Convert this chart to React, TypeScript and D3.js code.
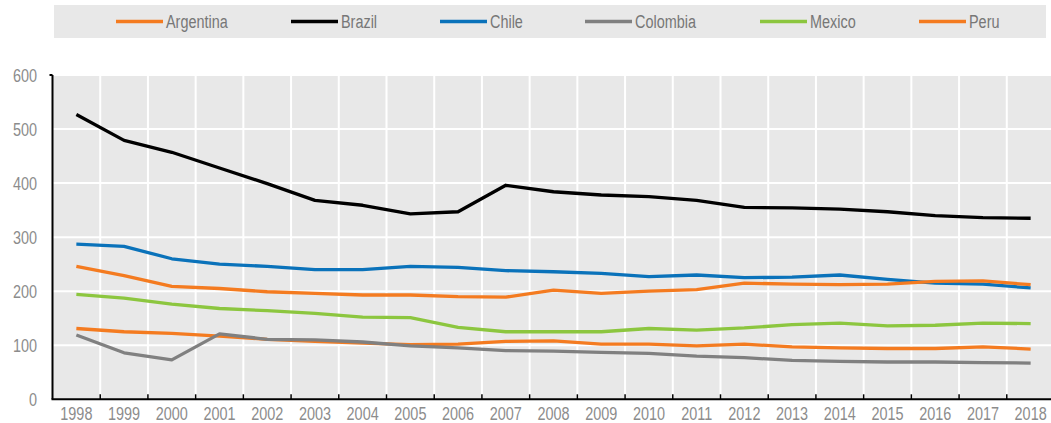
import React from "react";
import * as d3 from "d3";

const years = ["1998","1999","2000","2001","2002","2003","2004","2005","2006","2007","2008","2009","2010","2011","2012","2013","2014","2015","2016","2017","2018"];
const yTicks = [0, 100, 200, 300, 400, 500, 600];

const argentina = [131, 125, 122, 117, 111, 107, 104, 101, 102, 107, 108, 102, 102, 99, 102, 97, 95, 94, 94, 97, 93];
const brazil = [527, 479, 457, 428, 399, 368, 359, 343, 347, 396, 384, 378, 375, 368, 355, 354, 352, 347, 340, 336, 335];
const chile = [287, 283, 260, 250, 246, 240, 240, 246, 244, 238, 236, 233, 227, 230, 225, 226, 230, 222, 215, 213, 206];
const colombia = [119, 86, 73, 121, 111, 110, 106, 99, 95, 90, 89, 87, 85, 80, 77, 72, 70, 69, 69, 68, 67];
const mexico = [194, 187, 176, 168, 164, 159, 152, 151, 133, 125, 125, 125, 131, 128, 132, 138, 141, 136, 137, 141, 140];
const peru = [246, 229, 209, 205, 199, 196, 193, 193, 190, 189, 202, 196, 200, 203, 215, 213, 212, 213, 218, 219, 212];

const seriesNames = ["Argentina", "Brazil", "Chile", "Colombia", "Mexico", "Peru"];
const seriesValues = [argentina, brazil, chile, colombia, mexico, peru];
const seriesColors = ["#F47B20", "#000000", "#0A72BA", "#808080", "#8CC63F", "#F47B20"];

const FONT = "'Liberation Sans', Arial, sans-serif";
const SX = 0.76;

function CText(props: { x: number; y: number; anchor?: string; fill: string; size: number; children: React.ReactNode }) {
  return (
    <text
      transform={`translate(${props.x},${props.y}) scale(${SX},1)`}
      dy="0.35em"
      textAnchor={props.anchor || "start"}
      fontFamily={FONT}
      fontSize={props.size}
      fill={props.fill}
    >
      {props.children}
    </text>
  );
}

export default function App() {
  const W = 1051, H = 423;
  const left = 52.5, right = 1054.5, top = 75, bottom = 399.3;
  const x = d3.scaleBand<string>().domain(years).range([left, right]).padding(0);
  const y = d3.scaleLinear().domain([0, 600]).range([bottom, top]);
  const line = d3.line<number>()
    .x((_, i) => (x(years[i]) as number) + x.bandwidth() / 2)
    .y((d) => y(d));

  const legendX = [116, 291, 440, 585, 760, 919];

  return (
    <svg width={W} height={H} style={{ position: "absolute", left: 0, top: 0, display: "block" }}>
      <rect x={0} y={0} width={W} height={H} fill="#ffffff" />
      {/* legend */}
      <rect x={54} y={5} width={992} height={33} fill="#E8E8E8" />
      {seriesNames.map((n, i) => (
        <g key={n}>
          <line x1={legendX[i]} x2={legendX[i] + 47} y1={21.5} y2={21.5} stroke={seriesColors[i]} strokeWidth={3.5} />
          <CText x={legendX[i] + 50} y={21.5} size={19} fill="#777777">{n}</CText>
        </g>
      ))}
      {/* plot background */}
      <rect x={left} y={top} width={right - left} height={bottom - top} fill="#E8E8E8" />
      {/* horizontal grid */}
      {yTicks.filter((t) => t > 0).map((t) => (
        <line key={t} x1={left} x2={right} y1={y(t)} y2={y(t)} stroke="#ffffff" strokeWidth={2} />
      ))}
      {/* vertical grid */}
      {years.slice(1).map((yr) => (
        <line key={yr} x1={x(yr) as number} x2={x(yr) as number} y1={top} y2={bottom} stroke="#ffffff" strokeWidth={2} />
      ))}
      {/* series */}
      {seriesValues.map((vals, i) => (
        <path key={seriesNames[i]} d={line(vals) || ""} fill="none" stroke={seriesColors[i]} strokeWidth={3.3} strokeLinejoin="round" />
      ))}
      {/* axes */}
      <line x1={left} x2={left} y1={top} y2={bottom} stroke="#000" strokeWidth={2} />
      <line x1={left - 1} x2={right} y1={bottom} y2={bottom} stroke="#000" strokeWidth={2} />
      <line x1={left - 3} x2={left} y1={top} y2={top} stroke="#000" strokeWidth={2} />
      {years.slice(1).map((yr) => (
        <line key={"t" + yr} x1={x(yr) as number} x2={x(yr) as number} y1={bottom - 5} y2={bottom} stroke="#000" strokeWidth={1.5} />
      ))}
      {/* y labels */}
      {yTicks.map((t) => (
        <CText key={t} x={37} y={y(t)} anchor="end" size={19} fill="#8c8c8c">{t}</CText>
      ))}
      {/* x labels */}
      {years.map((yr) => (
        <CText key={yr} x={(x(yr) as number) + x.bandwidth() / 2} y={413} anchor="middle" size={19} fill="#8c8c8c">{yr}</CText>
      ))}
    </svg>
  );
}
